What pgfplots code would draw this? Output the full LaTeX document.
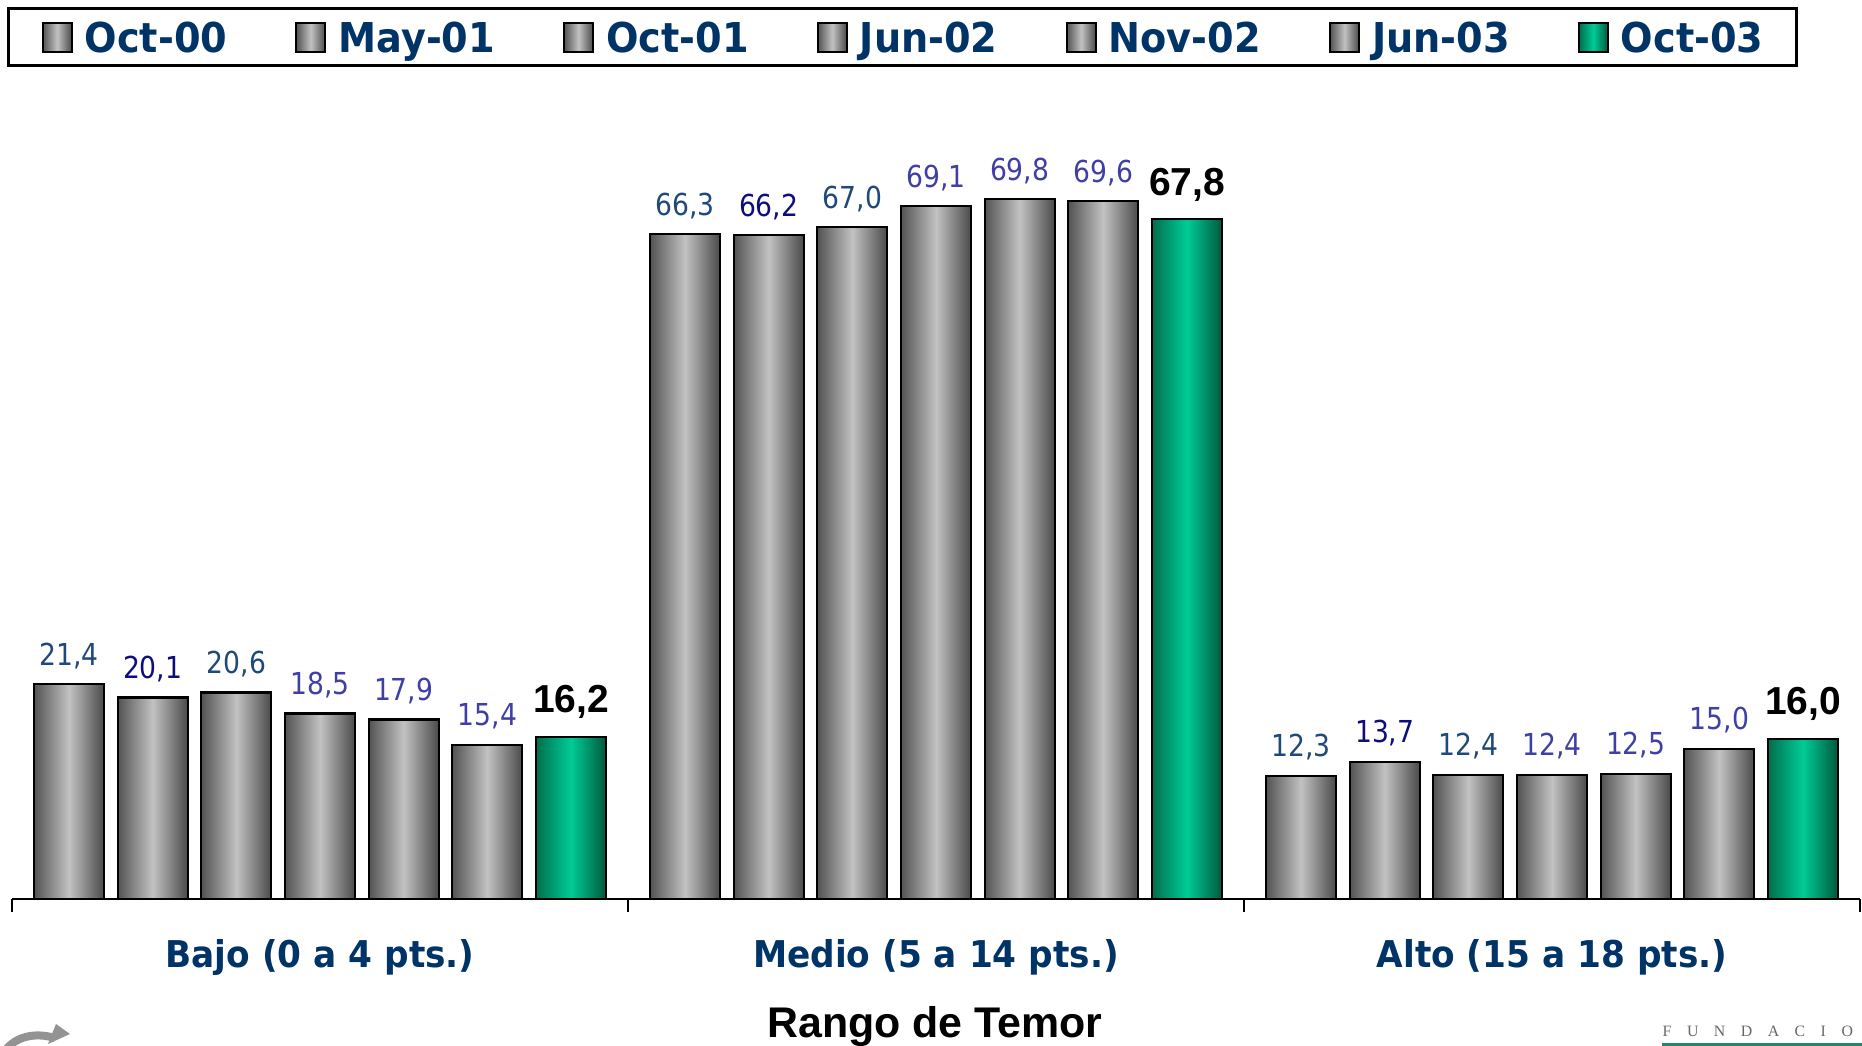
\documentclass[border=0pt]{standalone}
\usepackage{pgfplots}
\pgfplotsset{compat=1.18}
\usepackage{fontspec}
\setmainfont{Liberation Sans}
\newfontfamily\lblfont[FakeStretch=0.88]{DejaVu Sans}
\newfontfamily\catfont[FakeStretch=0.93]{DejaVu Sans}
\newfontfamily\serfont{Liberation Serif}

\definecolor{barDark}{HTML}{535353}
\definecolor{barRight}{HTML}{4A4A4A}
\definecolor{barLight}{HTML}{C2C2C2}
\definecolor{grnDark}{HTML}{006E4E}
\definecolor{grnLight}{HTML}{00CC96}
\definecolor{grnRight}{HTML}{00583E}
\definecolor{catblue}{HTML}{003366}
\definecolor{lblA}{HTML}{1F497D}
\definecolor{lblB}{HTML}{0D0D80}
\definecolor{lblC}{HTML}{3F3FA6}

\pgfplotsset{
  graybar/.style={draw=black, line width=0.6pt, left color=barDark, right color=barRight, middle color=barLight},
  greenbar/.style={draw=black, line width=0.6pt, left color=grnDark, right color=grnRight, middle color=grnLight},
  lblstyle/.style={nodes near coords, every node near coord/.append style={anchor=center, yshift=2.85mm, inner sep=0pt, font=\lblfont\fontsize{8.6pt}{10pt}\selectfont, text=#1}},
  boldlbl/.style={nodes near coords, every node near coord/.append style={anchor=center, yshift=3.45mm, inner sep=0pt, font=\bfseries\fontsize{11.1pt}{13pt}\selectfont, text=black}},
}

\begin{document}
\begin{tikzpicture}
\begin{axis}[
  at={(0.12cm,1.47cm)}, anchor=south west,
  scale only axis, width=18.48cm, height=7.82cm,
  xmin=-0.5, xmax=2.5, ymin=0, ymax=78,
  axis y line=none, axis x line*=bottom,
  x axis line style={black, line width=0.6pt},
  xtick={-0.5,0.5,1.5,2.5}, xticklabels={},
  major tick length=1.3mm, tick align=outside,
  tick style={black, line width=0.6pt},
  ybar, bar width=0.70cm,
  clip=false,
  /pgf/number format/fixed,
  /pgf/number format/fixed zerofill,
  /pgf/number format/precision=1,
  /pgf/number format/use comma,
  /pgf/number format/assume math mode=true,
  legend columns=7,
  legend image code/.code={\draw[#1,/tikz/.cd,draw=black,line width=0.6pt] (0cm,-0.145cm) rectangle (0.29cm,0.145cm);},
  legend style={
    at={(-0.0027,1.1407)}, anchor=north west,
    draw=black, line width=0.9pt,
    inner xsep=0.33cm, inner ysep=0.13cm,
    font=\catfont\bfseries\fontsize{11.7pt}{14pt}\selectfont,
    text=catblue,
    nodes={inner sep=0pt, text height=0.30cm, text depth=0cm},
    /tikz/every odd column/.append style={column sep=0.12cm},
    /tikz/every even column/.append style={column sep=0.68cm},
  },
]
% Oct-00
\addplot[graybar, bar shift=-2.5098cm, lblstyle=lblA] coordinates {(0,21.4)};
\addlegendentry{Oct-00}
\addplot[graybar, bar shift=-2.5098cm, lblstyle=lblA, forget plot] coordinates {(1,66.3)};
\addplot[graybar, bar shift=-2.5098cm, lblstyle=lblA, forget plot] coordinates {(2,12.3)};
% May-01
\addplot[graybar, bar shift=-1.6732cm, lblstyle=lblB] coordinates {(0,20.1)};
\addlegendentry{May-01}
\addplot[graybar, bar shift=-1.6732cm, lblstyle=lblB, forget plot] coordinates {(1,66.2)};
\addplot[graybar, bar shift=-1.6732cm, lblstyle=lblB, forget plot] coordinates {(2,13.7)};
% Oct-01
\addplot[graybar, bar shift=-0.8366cm, lblstyle=lblA] coordinates {(0,20.6)};
\addlegendentry{Oct-01}
\addplot[graybar, bar shift=-0.8366cm, lblstyle=lblA, forget plot] coordinates {(1,67.0)};
\addplot[graybar, bar shift=-0.8366cm, lblstyle=lblA, forget plot] coordinates {(2,12.4)};
% Jun-02
\addplot[graybar, bar shift=0cm, lblstyle=lblC] coordinates {(0,18.5)};
\addlegendentry{Jun-02}
\addplot[graybar, bar shift=0cm, lblstyle=lblC, forget plot] coordinates {(1,69.1)};
\addplot[graybar, bar shift=0cm, lblstyle=lblC, forget plot] coordinates {(2,12.4)};
% Nov-02
\addplot[graybar, bar shift=0.8366cm, lblstyle=lblC] coordinates {(0,17.9)};
\addlegendentry{Nov-02}
\addplot[graybar, bar shift=0.8366cm, lblstyle=lblC, forget plot] coordinates {(1,69.8)};
\addplot[graybar, bar shift=0.8366cm, lblstyle=lblC, forget plot] coordinates {(2,12.5)};
% Jun-03
\addplot[graybar, bar shift=1.6732cm, lblstyle=lblC] coordinates {(0,15.4)};
\addlegendentry{Jun-03}
\addplot[graybar, bar shift=1.6732cm, lblstyle=lblC, forget plot] coordinates {(1,69.6)};
\addplot[graybar, bar shift=1.6732cm, lblstyle=lblC, forget plot] coordinates {(2,15.0)};
% Oct-03
\addplot[greenbar, bar shift=2.5098cm, boldlbl] coordinates {(0,16.2)};
\addlegendentry{Oct-03}
\addplot[greenbar, bar shift=2.5098cm, boldlbl, forget plot] coordinates {(1,67.8)};
\addplot[greenbar, bar shift=2.5098cm, boldlbl, forget plot] coordinates {(2,16.0)};

\node[font=\catfont\bfseries\fontsize{10.5pt}{12pt}\selectfont, text=catblue] at (axis cs:0,0) [yshift=-5.8mm] {Bajo (0 a 4 pts.)};
\node[font=\catfont\bfseries\fontsize{10.5pt}{12pt}\selectfont, text=catblue] at (axis cs:1,0) [yshift=-5.8mm] {Medio (5 a 14 pts.)};
\node[font=\catfont\bfseries\fontsize{10.5pt}{12pt}\selectfont, text=catblue] at (axis cs:2,0) [yshift=-5.8mm] {Alto (15 a 18 pts.)};
\end{axis}

\node[anchor=base, inner sep=0pt, font=\bfseries\fontsize{12.2pt}{14pt}\selectfont] at (9.35cm,0.08cm) {Rango de Temor};
\node[anchor=base west, inner sep=0pt, font=\serfont\fontsize{4.5pt}{5pt}\selectfont, text=black!60] at (16.62cm,0.09cm) {F\hspace{1.55mm}U\hspace{1.55mm}N\hspace{1.55mm}D\hspace{1.55mm}A\hspace{1.55mm}C\hspace{1.55mm}I\hspace{1.55mm}O};
\fill[grnDark!85] (16.62cm,0cm) rectangle (18.62cm,0.03cm);
\draw[gray!85, line width=0.8mm] (0.02cm,-0.1cm) .. controls (0.12cm,0.1cm) and (0.35cm,0.14cm) .. (0.55cm,0.08cm);
\fill[gray!85] (0.48cm,0.02cm) -- (0.56cm,0.22cm) -- (0.70cm,0.12cm) -- cycle;
\pgfresetboundingbox
\useasboundingbox (0,0) rectangle (18.62cm,10.46cm);
\end{tikzpicture}
\end{document}
